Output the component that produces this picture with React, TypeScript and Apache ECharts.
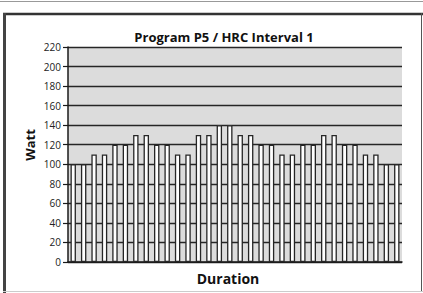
import React, { useEffect, useRef } from "react";
import * as echarts from "echarts";

const titleText = "Program P5 / HRC Interval 1";
const xAxisName = "Duration";
const yAxisName = "Watt";
const categories = [
  "1", "2", "3", "4", "5", "6", "7", "8", "9", "10", "11", "12", "13", "14", "15", "16",
  "17", "18", "19", "20", "21", "22", "23", "24", "25", "26", "27", "28", "29", "30", "31", "32",
];
const wattValues = [
  100, 100, 110, 110, 120, 120, 130, 130, 120, 120, 110, 110, 130, 130, 140, 140,
  130, 130, 120, 120, 110, 110, 120, 120, 130, 130, 120, 120, 110, 110, 100, 100,
];
const yMin = 0;
const yMax = 220;
const yStep = 20;

export default function App() {
  const ref = useRef<HTMLDivElement>(null);
  useEffect(() => {
    document.body.style.margin = "0";
    const chart = echarts.init(ref.current!, null, { renderer: "svg" });
    const font = "'Open Sans', 'DejaVu Sans', sans-serif";
    chart.setOption({
      animation: false,
      backgroundColor: "#ffffff",
      textStyle: { fontFamily: font },
      title: {
        text: titleText,
        left: 219,
        top: 25,
        textAlign: "center",
        textStyle: { fontSize: 13, fontWeight: "bold", color: "#111", fontFamily: font },
      },
      grid: {
        left: 68,
        right: 21,
        top: 47,
        bottom: 31,
        show: true,
        backgroundColor: "#dcdcdc",
        borderWidth: 0,
      },
      xAxis: {
        type: "category",
        data: categories,
        axisLabel: { show: false },
        axisTick: { show: false },
        axisLine: { show: true, lineStyle: { color: "#1a1a1a", width: 1.5 } },
        splitLine: { show: false },
      },
      yAxis: {
        type: "value",
        min: yMin,
        max: yMax,
        interval: yStep,
        axisLabel: { fontSize: 10, color: "#222", margin: 7, fontFamily: font },
        axisTick: { show: true, length: 5, lineStyle: { color: "#1a1a1a", width: 1.2 } },
        axisLine: { show: true, lineStyle: { color: "#1a1a1a", width: 1.5 } },
        splitLine: { show: true, lineStyle: { color: "#262626", width: 1.4 } },
      },
      series: [
        {
          type: "bar",
          data: wattValues,
          barCategoryGap: "48%",
          itemStyle: { color: "#ffffff", borderColor: "#262626", borderWidth: 1.3 },
          z: 3,
        },
      ],
      graphic: [
        { type: "line", shape: { x1: 0, y1: 1.5, x2: 423, y2: 1.5 }, style: { stroke: "#999", lineWidth: 1 } },
        { type: "line", shape: { x1: 3, y1: 14, x2: 423, y2: 14 }, style: { stroke: "#333", lineWidth: 2.5 } },
        { type: "line", shape: { x1: 4.5, y1: 13, x2: 4.5, y2: 293 }, style: { stroke: "#444", lineWidth: 3 } },
        { type: "line", shape: { x1: 421.5, y1: 13, x2: 421.5, y2: 291 }, style: { stroke: "#555", lineWidth: 1 } },
        { type: "line", shape: { x1: 3, y1: 291.5, x2: 423, y2: 291.5 }, style: { stroke: "#ccc", lineWidth: 1 } },
        {
          type: "text",
          x: 30,
          y: 145,
          rotation: Math.PI / 2,
          style: {
            text: yAxisName,
            fontSize: 13,
            fontWeight: "bold",
            fill: "#111",
            fontFamily: font,
            align: "center",
            verticalAlign: "middle",
          },
        },
        {
          type: "text",
          x: 228,
          y: 278,
          style: {
            text: xAxisName,
            fontSize: 14,
            fontWeight: "bold",
            fill: "#111",
            fontFamily: font,
            align: "center",
            verticalAlign: "middle",
          },
        },
      ],
    });
    return () => chart.dispose();
  }, []);
  return <div ref={ref} style={{ width: 423, height: 293 }} />;
}
